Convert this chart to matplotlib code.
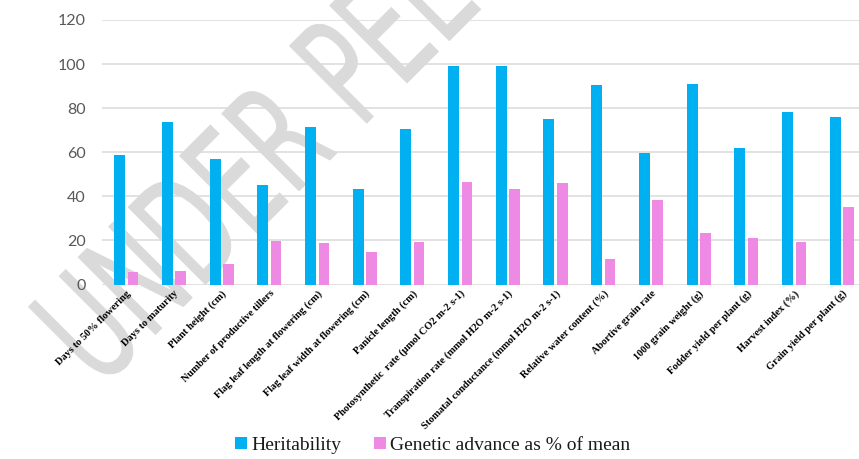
import numpy as np
import matplotlib
matplotlib.use('Agg')
import matplotlib.pyplot as plt
from matplotlib.textpath import TextPath
from matplotlib.patches import PathPatch
from matplotlib.font_manager import FontProperties
from matplotlib.transforms import Affine2D

# dados
caracteres = ['Days to 50% flowering', 'Days to maturity', 'Plant height (cm)',
              'Number of productive tillers', 'Flag leaf length at flowering (cm)',
              'Flag leaf width at flowering (cm)', 'Panicle length (cm)',
              'Photosynthetic  rate (µmol CO2 m-2 s-1)',
              'Transpiration rate (mmol H2O m-2 s-1)',
              'Stomatal conductance (mmol H2O m-2 s-1)',
              'Relative water content (%)', 'Abortive grain rate',
              '1000 grain weight (g)', 'Fodder yield per plant (g)',
              'Harvest index (%)', 'Grain yield per plant (g)']
herdabilidade = [58.6, 73.7, 56.8, 45.0, 71.3, 43.3, 70.4, 99.3,
                 99.3, 75.1, 90.4, 59.8, 90.8, 61.8, 78.4, 75.9]
avanco_genetico = [5.7, 6.1, 9.3, 19.6, 18.7, 14.7, 19.3, 46.5,
                   43.5, 45.9, 11.6, 38.2, 23.2, 21.0, 19.4, 35.2]
yticks = [0, 20, 40, 60, 80, 100, 120]

azul = '#00B0F0'
rosa = '#EE8AE4'
cinza = '#DADADA'

W, H = 859, 459
fig = plt.figure(figsize=(W/100, H/100), dpi=100)
fig.patch.set_facecolor('white')

# ====== marca d'agua ======
tp = TextPath((0, 0), 'UNDER PEER REVIEW', size=150,
              prop=FontProperties(family='DejaVu Sans'))
tr = Affine2D().scale(0.63, 1).rotate_deg(45).translate(100, H - 390)
wm = PathPatch(tp, facecolor=cinza, edgecolor=cinza, lw=0.6,
               joinstyle='round', transform=tr, zorder=-1)
fig.add_artist(wm)

# ====== eixo ======
esq = 102.45/W
larg = 16*47.7/W
ax = fig.add_axes([esq, 174.5/H, larg, 264.5/H])
ax.set_facecolor('none')

x = np.arange(len(caracteres))
ax.bar(x - 0.14, herdabilidade, width=0.23, color=azul, label='Heritability', zorder=3)
ax.bar(x + 0.14, avanco_genetico, width=0.22, color=rosa,
       label='Genetic advance as % of mean', zorder=3)

ax.set_xlim(-0.5, len(caracteres) - 0.5)
ax.set_ylim(0, 120)
ax.set_yticks(yticks)
ax.set_yticklabels([str(v) for v in yticks], fontsize=11.5, color='#595959',
                   fontname='Lato')
ax.yaxis.grid(True, color=cinza, lw=1.1, zorder=0)
ax.set_axisbelow(True)
for s in ax.spines.values():
    s.set_visible(False)
ax.tick_params(axis='y', length=0, pad=12)
ax.tick_params(axis='x', length=0, pad=3)
ax.set_xticks(x)
ax.set_xticklabels(caracteres, rotation=45, ha='right', va='top',
                   rotation_mode='anchor', fontsize=7.5, fontweight='bold',
                   fontname='Liberation Serif')

# ====== legenda ======
leg = fig.legend(loc='center', bbox_to_anchor=(433/W, 13.3/H), ncol=2, frameon=False,
                 prop=FontProperties(family='Liberation Serif', size=14),
                 handlelength=0.57, handleheight=0.57, handletextpad=0.25,
                 columnspacing=1.7)
for t in leg.get_texts():
    t.set_fontfamily('Liberation Serif')
    t.set_color('#1a1a1a')

fig.savefig('out.png', dpi=100)
